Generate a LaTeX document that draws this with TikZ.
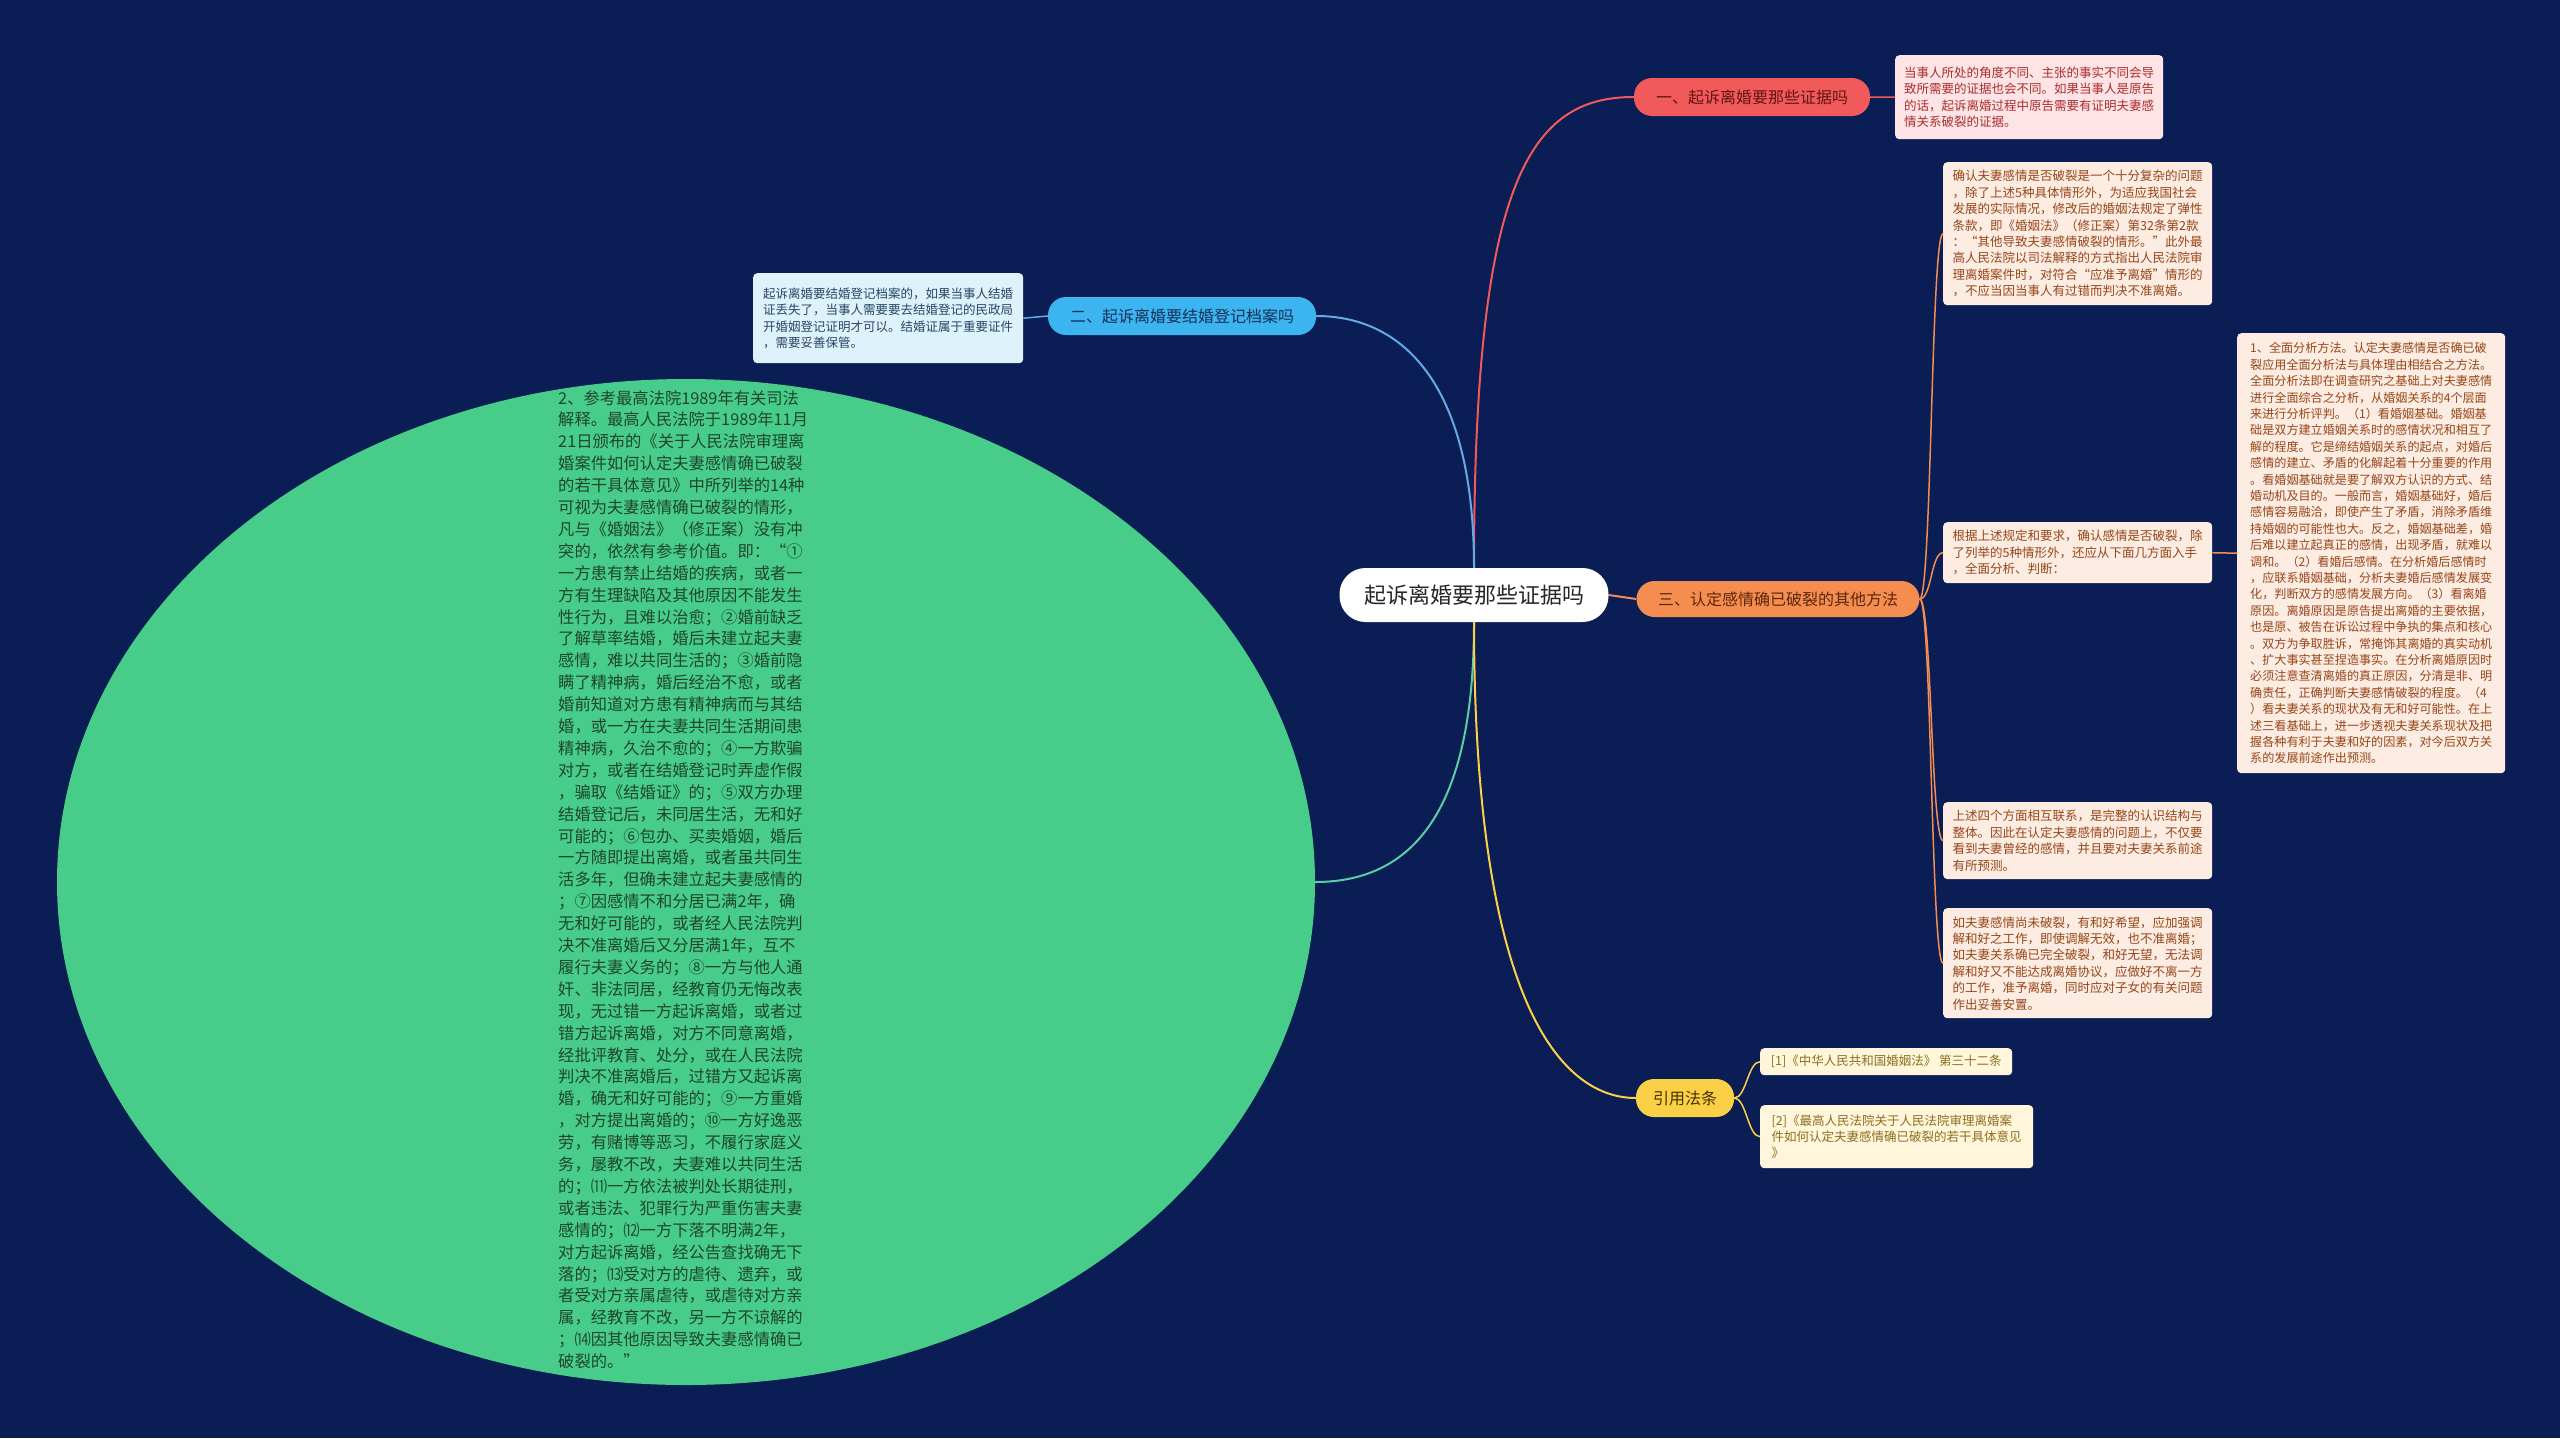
\documentclass[tikz,border=0pt]{standalone}
\usepackage{fontspec}
\setmainfont{Noto Sans CJK SC}
\usepackage{xcolor}
\usepackage{tikz}
\usetikzlibrary{arrows.meta, positioning, shapes.geometric, calc}

\definecolor{bgnavy}{RGB}{10,29,84}
\definecolor{lawgreen}{RGB}{72,204,137}
\definecolor{lawink}{RGB}{30,70,45}
\definecolor{redA}{RGB}{240,90,90}
\definecolor{blueA}{RGB}{60,180,240}
\definecolor{blueL}{RGB}{100,170,230}
\definecolor{orangeA}{RGB}{245,140,80}
\definecolor{yellowA}{RGB}{250,208,70}
\definecolor{greenL}{RGB}{90,205,165}

\begin{document}
\begin{tikzpicture}[x=1pt, y=-1pt,
    rootnode/.style={rectangle, rounded corners=26pt, fill=white, text=black!85,
      minimum width=269pt, minimum height=54pt, font=\fontsize{22}{26}\selectfont},
    topic/.style={rectangle, rounded corners=18pt, minimum height=38pt,
      font=\fontsize{16}{20}\selectfont},
    note/.style={rectangle, rounded corners=4pt, anchor=north west, align=left,
      inner xsep=8pt, inner ysep=8pt, font=\fontsize{12.5}{16.4}\selectfont},
    branch/.style={line width=2pt},
    twig/.style={line width=1.5pt}
]
\useasboundingbox (0,0) rectangle (2560,1438);
\fill[bgnavy] (0,0) rectangle (2560,1438);

% centre and main topics
\node[rootnode] (root) at (1474,595) {起诉离婚要那些证据吗};
\node[topic, fill=redA, text={rgb,255:red,100;green,20;blue,20}, minimum width=236pt] (t1) at (1752,97) {一、起诉离婚要那些证据吗};
\node[topic, fill=blueA, text={rgb,255:red,20;green,50;blue,90}, minimum width=268pt] (t2) at (1182,316) {二、起诉离婚要结婚登记档案吗};
\node[topic, fill=orangeA, text={rgb,255:red,90;green,40;blue,10}, minimum width=283pt, minimum height=36pt] (t3) at (1778,599) {三、认定感情确已破裂的其他方法};
\node[topic, fill=yellowA, text={rgb,255:red,70;green,50;blue,0}, minimum width=98pt] (t4) at (1685,1098) {引用法条};

% notes
\node[note, fill={rgb,255:red,255;green,228;blue,230}, text={rgb,255:red,170;green,45;blue,45}, minimum width=268pt, minimum height=84pt] (b1) at (1895,55)
  {当事人所处的角度不同、主张的事实不同会导\\致所需要的证据也会不同。如果当事人是原告\\的话，起诉离婚过程中原告需要有证明夫妻感\\情关系破裂的证据。};
\node[note, fill={rgb,255:red,222;green,242;blue,252}, text={rgb,255:red,40;green,70;blue,100}, minimum width=270pt, minimum height=90pt] (b2) at (753,273)
  {起诉离婚要结婚登记档案的，如果当事人结婚\\证丢失了，当事人需要要去结婚登记的民政局\\开婚姻登记证明才可以。结婚证属于重要证件\\，需要妥善保管。};

\tikzset{peach/.style={note, fill={rgb,255:red,253;green,236;blue,226}, text={rgb,255:red,150;green,70;blue,25}}}
\node[peach, minimum width=269pt, minimum height=143pt] (r1) at (1943,162)
  {确认夫妻感情是否破裂是一个十分复杂的问题\\，除了上述5种具体情形外，为适应我国社会\\发展的实际情况，修改后的婚姻法规定了弹性\\条款，即《婚姻法》（修正案）第32条第2款\\：“其他导致夫妻感情破裂的情形。”此外最\\高人民法院以司法解释的方式指出人民法院审\\理离婚案件时，对符合“应准予离婚”情形的\\，不应当因当事人有过错而判决不准离婚。};
\node[peach, minimum width=269pt, minimum height=61pt] (r2) at (1943,522)
  {根据上述规定和要求，确认感情是否破裂，除\\了列举的5种情形外，还应从下面几方面入手\\，全面分析、判断：};
\node[peach, minimum width=268pt, minimum height=440pt, inner xsep=5pt, font=\fontsize{12.1}{16.4}\selectfont] (r3) at (2237,333)
  {1、全面分析方法。认定夫妻感情是否确已破\\裂应用全面分析法与具体理由相结合之方法。\\全面分析法即在调查研究之基础上对夫妻感情\\进行全面综合之分析，从婚姻关系的4个层面\\来进行分析评判。（1）看婚姻基础。婚姻基\\础是双方建立婚姻关系时的感情状况和相互了\\解的程度。它是缔结婚姻关系的起点，对婚后\\感情的建立、矛盾的化解起着十分重要的作用\\。看婚姻基础就是要了解双方认识的方式、结\\婚动机及目的。一般而言，婚姻基础好，婚后\\感情容易融洽，即使产生了矛盾，消除矛盾维\\持婚姻的可能性也大。反之，婚姻基础差，婚\\后难以建立起真正的感情，出现矛盾，就难以\\调和。（2）看婚后感情。在分析婚后感情时\\，应联系婚姻基础，分析夫妻婚后感情发展变\\化，判断双方的感情发展方向。（3）看离婚\\原因。离婚原因是原告提出离婚的主要依据，\\也是原、被告在诉讼过程中争执的集点和核心\\。双方为争取胜诉，常掩饰其离婚的真实动机\\、扩大事实甚至捏造事实。在分析离婚原因时\\必须注意查清离婚的真正原因，分清是非、明\\确责任，正确判断夫妻感情破裂的程度。（4\\）看夫妻关系的现状及有无和好可能性。在上\\述三看基础上，进一步透视夫妻关系现状及把\\握各种有利于夫妻和好的因素，对今后双方关\\系的发展前途作出预测。};
\node[peach, minimum width=269pt, minimum height=76pt] (r4) at (1943,802)
  {上述四个方面相互联系，是完整的认识结构与\\整体。因此在认定夫妻感情的问题上，不仅要\\看到夫妻曾经的感情，并且要对夫妻关系前途\\有所预测。};
\node[peach, minimum width=269pt, minimum height=110pt] (r5) at (1943,908)
  {如夫妻感情尚未破裂，有和好希望，应加强调\\解和好之工作，即使调解无效，也不准离婚；\\如夫妻关系确已完全破裂，和好无望，无法调\\解和好又不能达成离婚协议，应做好不离一方\\的工作，准予离婚，同时应对子女的有关问题\\作出妥善安置。};

\tikzset{cream/.style={note, fill={rgb,255:red,255;green,246;blue,220}, text={rgb,255:red,140;green,110;blue,30}}}
\node[cream, minimum width=252pt, minimum height=27pt, inner ysep=4pt] (f1) at (1760,1048)
  {[1]《中华人民共和国婚姻法》 第三十二条};
\node[cream, minimum width=273pt, minimum height=63pt] (f2) at (1760,1105)
  {[2]《最高人民法院关于人民法院审理离婚案\\件如何认定夫妻感情确已破裂的若干具体意见\\》};

% the large green bubble
\node[ellipse, fill=lawgreen, inner sep=0pt, minimum width=1258pt, minimum height=1006pt] (law) at (686,882) {};
\node[anchor=north west, inner sep=0pt, align=left, text=lawink, font=\fontsize{16.3}{21.9}\selectfont] (lawtxt) at (558,390)
  {2、参考最高法院1989年有关司法\\解释。最高人民法院于1989年11月\\21日颁布的《关于人民法院审理离\\婚案件如何认定夫妻感情确已破裂\\的若干具体意见》中所列举的14种\\可视为夫妻感情确已破裂的情形，\\凡与《婚姻法》（修正案）没有冲\\突的，依然有参考价值。即：“①\\一方患有禁止结婚的疾病，或者一\\方有生理缺陷及其他原因不能发生\\性行为，且难以治愈；②婚前缺乏\\了解草率结婚，婚后未建立起夫妻\\感情，难以共同生活的；③婚前隐\\瞒了精神病，婚后经治不愈，或者\\婚前知道对方患有精神病而与其结\\婚，或一方在夫妻共同生活期间患\\精神病，久治不愈的；④一方欺骗\\对方，或者在结婚登记时弄虚作假\\，骗取《结婚证》的；⑤双方办理\\结婚登记后，未同居生活，无和好\\可能的；⑥包办、买卖婚姻，婚后\\一方随即提出离婚，或者虽共同生\\活多年，但确未建立起夫妻感情的\\；⑦因感情不和分居已满2年，确\\无和好可能的，或者经人民法院判\\决不准离婚后又分居满1年，互不\\履行夫妻义务的；⑧一方与他人通\\奸、非法同居，经教育仍无悔改表\\现，无过错一方起诉离婚，或者过\\错方起诉离婚，对方不同意离婚，\\经批评教育、处分，或在人民法院\\判决不准离婚后，过错方又起诉离\\婚，确无和好可能的；⑨一方重婚\\，对方提出离婚的；⑩一方好逸恶\\劳，有赌博等恶习，不履行家庭义\\务，屡教不改，夫妻难以共同生活\\的；⑾一方依法被判处长期徒刑，\\或者违法、犯罪行为严重伤害夫妻\\感情的；⑿一方下落不明满2年，\\对方起诉离婚，经公告查找确无下\\落的；⒀受对方的虐待、遗弃，或\\者受对方亲属虐待，或虐待对方亲\\属，经教育不改，另一方不谅解的\\；⒁因其他原因导致夫妻感情确已\\破裂的。”};

% branches from the centre
\draw[branch, redA] (root.north) .. controls (1474,180) and (1530,97) .. (t1.west);
\draw[branch, blueL] (root.north) .. controls (1474,380) and (1400,316) .. (t2.east);
\draw[branch, greenL] (root.south) .. controls (1474,800) and (1420,882) .. (law.east);
\draw[branch, yellowA] (root.south) .. controls (1474,1000) and (1560,1098) .. (t4.west);
\draw[branch, orangeA] (root.east) -- (t3.west);

% twigs to the notes
\draw[twig, redA] (t1.east) -- (b1.west);
\draw[twig, blueL] (t2.west) -- (b2.east);
\foreach \n in {r1, r2, r4, r5}
  \draw[twig, orangeA] (t3.east) .. controls ($(t3.east)+(12,0)$) and ($(\n.west)+(-12,0)$) .. (\n.west);
\draw[twig, orangeA] (r2.east) -- (r3.west);
\foreach \n in {f1, f2}
  \draw[twig, yellowA] (t4.east) .. controls ($(t4.east)+(12,0)$) and ($(\n.west)+(-12,0)$) .. (\n.west);
\end{tikzpicture}
\end{document}
